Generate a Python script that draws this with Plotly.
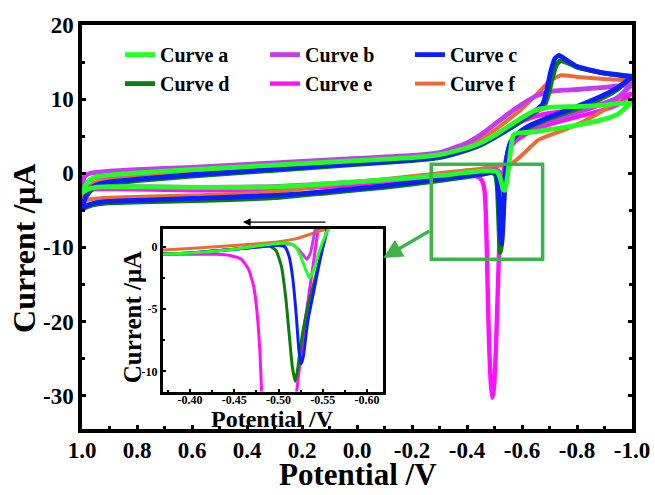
import plotly.graph_objects as go

FONT = "Liberation Serif"

names = ["Curve a", "Curve b", "Curve c", "Curve d", "Curve e", "Curve f"]
colors = ["#22FF22", "#C43CF0", "#0A1EFF", "#0A7E0A", "#FF10FF", "#EE6A35"]

x_tickvals = [1.0, 0.8, 0.6, 0.4, 0.2, 0.0, -0.2, -0.4, -0.6, -0.8, -1.0]
x_ticktext = ["1.0", "0.8", "0.6", "0.4", "0.2", "0.0", "-0.2", "-0.4", "-0.6", "-0.8", "-1.0"]
y_tickvals = [20, 10, 0, -10, -20, -30]
y_ticktext = ["20", "10", "0", "-10", "-20", "-30"]
ix_tickvals = [-0.40, -0.45, -0.50, -0.55, -0.60]
ix_ticktext = ["-0.40", "-0.45", "-0.50", "-0.55", "-0.60"]
iy_tickvals = [0, -5, -10]
iy_ticktext = ["0", "-5", "-10"]

# ---- main CV loops: forward (upper) branch then reverse (lower) branch ----
a_up_V = [1.0, 0.985, 0.97, 0.95, 0.9, 0.8, 0.6, 0.4, 0.2, 0.0, -0.2, -0.3, -0.4, -0.45, -0.5, -0.55, -0.6, -0.65, -0.7, -0.8, -0.9, -1.0]
a_up_I = [-2.6, -1.5, -0.9, -0.5, -0.25, 0.05, 0.5, 0.9, 1.3, 1.7, 2.1, 2.5, 3.4, 4.1, 5.1, 6.3, 7.5, 8.5, 8.9, 9.0, 9.2, 9.6]
a_lo_V = [-1.0, -0.95, -0.9, -0.8, -0.7, -0.62, -0.58, -0.568, -0.56, -0.552, -0.545, -0.538, -0.532, -0.525, -0.515, -0.505, -0.45, -0.3, -0.1, 0.1, 0.3, 0.6, 0.9, 0.95, 0.98, 1.0]
a_lo_I = [9.6, 8.0, 7.3, 6.5, 5.9, 5.5, 5.4, 5.1, 3.5, 1.0, -1.0, -2.3, -2.2, -1.2, -0.1, 0.25, 0.3, -0.3, -0.9, -1.4, -1.85, -1.9, -1.8, -1.9, -2.2, -2.6]

b_up_V = [1.0, 0.99, 0.97, 0.9, 0.8, 0.6, 0.4, 0.2, 0.0, -0.2, -0.3, -0.4, -0.45, -0.5, -0.55, -0.6, -0.65, -0.7, -0.75, -0.8, -0.9, -1.0]
b_up_I = [-1.9, -0.4, 0.0, 0.3, 0.5, 0.8, 1.2, 1.6, 2.0, 2.4, 2.8, 4.1, 5.2, 6.6, 8.0, 9.3, 10.4, 11.0, 11.2, 11.3, 11.6, 12.0]
b_lo_V = [-1.0, -0.95, -0.9, -0.8, -0.7, -0.62, -0.575, -0.56, -0.55, -0.54, -0.532, -0.526, -0.518, -0.505, -0.45, -0.3, -0.1, 0.1, 0.3, 0.6, 0.9, 0.97, 1.0]
b_lo_I = [12.0, 10.3, 9.4, 8.2, 7.1, 5.9, 4.7, 3.8, 2.2, 0.5, -0.8, -0.6, 0.2, 0.45, 0.3, -0.3, -0.9, -1.4, -1.8, -1.9, -1.8, -1.85, -1.9]

c_up_V = [1.0, 0.985, 0.97, 0.95, 0.9, 0.8, 0.6, 0.4, 0.2, 0.0, -0.2, -0.3, -0.4, -0.45, -0.5, -0.55, -0.6, -0.65, -0.675, -0.69, -0.705, -0.72, -0.735, -0.76, -0.8, -0.9, -1.0]
c_up_I = [-4.6, -3.0, -2.2, -1.6, -1.15, -0.8, -0.2, 0.3, 0.8, 1.3, 1.8, 2.2, 3.2, 3.9, 4.9, 6.0, 7.2, 8.5, 9.3, 11.2, 13.8, 15.5, 15.9, 15.3, 14.4, 13.5, 13.0]
c_lo_V = [-1.0, -0.95, -0.9, -0.8, -0.7, -0.62, -0.58, -0.56, -0.549, -0.541, -0.535, -0.53, -0.526, -0.522, -0.518, -0.513, -0.508, -0.495, -0.45, -0.3, -0.1, 0.1, 0.3, 0.6, 0.9, 0.95, 0.98, 1.0]
c_lo_I = [13.0, 11.6, 10.6, 9.0, 7.6, 6.3, 5.2, 4.3, 3.0, 0.5, -3.5, -7.5, -9.5, -8.5, -5.0, -1.8, -0.2, 0.15, -0.1, -0.8, -1.7, -2.4, -3.0, -3.4, -3.8, -4.0, -4.3, -4.6]

d_up_V = [1.0, 0.985, 0.97, 0.95, 0.9, 0.8, 0.6, 0.4, 0.2, 0.0, -0.2, -0.3, -0.4, -0.45, -0.5, -0.55, -0.6, -0.65, -0.68, -0.695, -0.71, -0.725, -0.74, -0.765, -0.8, -0.9, -1.0]
d_up_I = [-4.8, -3.2, -2.4, -1.8, -1.35, -1.0, -0.4, 0.15, 0.65, 1.2, 1.7, 2.1, 3.1, 3.8, 4.8, 5.9, 7.1, 8.3, 9.0, 10.5, 12.8, 14.6, 15.2, 14.9, 14.3, 13.5, 13.1]
d_lo_V = [-1.0, -0.95, -0.9, -0.8, -0.7, -0.62, -0.58, -0.56, -0.548, -0.54, -0.534, -0.529, -0.525, -0.521, -0.518, -0.514, -0.51, -0.503, -0.49, -0.45, -0.3, -0.1, 0.1, 0.3, 0.6, 0.9, 0.95, 0.98, 1.0]
d_lo_I = [13.1, 11.4, 10.3, 8.7, 7.4, 6.1, 5.1, 4.2, 2.8, 0.5, -3.0, -7.0, -9.8, -10.7, -9.0, -5.0, -1.8, -0.2, 0.1, -0.2, -1.0, -1.9, -2.6, -3.3, -3.7, -4.0, -4.2, -4.5, -4.8]

e_up_V = [1.0, 0.985, 0.97, 0.95, 0.9, 0.8, 0.6, 0.4, 0.2, 0.0, -0.2, -0.3, -0.4, -0.45, -0.5, -0.55, -0.6, -0.65, -0.7, -0.8, -0.9, -1.0]
e_up_I = [-2.4, -1.4, -0.9, -0.6, -0.45, -0.15, 0.35, 0.8, 1.2, 1.6, 2.0, 2.4, 3.3, 4.0, 5.0, 6.0, 7.0, 7.7, 8.1, 8.6, 9.5, 10.8]
e_lo_V = [-1.0, -0.95, -0.9, -0.8, -0.7, -0.62, -0.575, -0.55, -0.535, -0.525, -0.517, -0.511, -0.505, -0.498, -0.492, -0.487, -0.481, -0.476, -0.472, -0.468, -0.464, -0.458, -0.448, -0.43, -0.4, -0.3, -0.1, 0.1, 0.3, 0.6, 0.9, 0.97, 1.0]
e_lo_I = [10.8, 9.3, 8.6, 7.6, 6.6, 5.4, 4.3, 3.0, 0.5, -4.0, -10.0, -17.0, -23.8, -29.0, -30.3, -28.5, -23.8, -17.0, -10.3, -5.0, -2.5, -1.3, -0.7, -0.4, -0.35, -0.7, -1.3, -1.8, -2.2, -2.3, -2.1, -2.2, -2.4]

f_up_V = [1.0, 0.985, 0.97, 0.95, 0.9, 0.8, 0.6, 0.4, 0.2, 0.0, -0.2, -0.3, -0.4, -0.45, -0.5, -0.55, -0.6, -0.65, -0.7, -0.74, -0.8, -0.9, -1.0]
f_up_I = [-3.7, -2.4, -1.7, -1.2, -0.9, -0.5, 0.0, 0.6, 1.1, 1.6, 2.1, 2.6, 3.8, 4.7, 5.8, 7.2, 8.7, 10.5, 12.4, 13.2, 13.0, 12.7, 12.5]
f_lo_V = [-1.0, -0.95, -0.9, -0.83, -0.75, -0.66, -0.61, -0.565, -0.5, -0.45, -0.3, -0.1, 0.1, 0.3, 0.6, 0.9, 0.97, 1.0]
f_lo_I = [12.5, 10.0, 8.6, 7.1, 5.8, 4.5, 2.8, 1.4, 0.9, 0.6, 0.0, -0.8, -1.6, -2.5, -3.0, -3.3, -3.5, -3.7]

# ---- inset (stripping-peak region, reverse scan) ----
ia_V = [-0.36, -0.40, -0.45, -0.48, -0.50, -0.51, -0.518, -0.525, -0.531, -0.535, -0.54, -0.545, -0.55, -0.557, -0.565]
ia_I = [-0.6, -0.5, -0.2, 0.1, 0.25, 0.3, 0.1, -0.8, -1.9, -2.5, -1.8, -0.6, 0.4, 1.6, 3.0]
ib_V = [-0.36, -0.40, -0.45, -0.50, -0.515, -0.525, -0.532, -0.536, -0.539, -0.542, -0.546]
ib_I = [-0.6, -0.5, -0.2, 0.2, 0.2, -0.4, -1.0, -0.5, 0.5, 1.6, 3.0]
ic_V = [-0.36, -0.40, -0.45, -0.48, -0.50, -0.507, -0.512, -0.516, -0.52, -0.523, -0.5255, -0.528, -0.533, -0.54, -0.547, -0.555, -0.562]
ic_I = [-0.55, -0.5, -0.2, 0.0, 0.1, 0.0, -0.8, -2.5, -5.5, -8.3, -9.4, -8.8, -6.0, -3.5, -1.0, 1.5, 3.5]
id_V = [-0.36, -0.40, -0.45, -0.48, -0.49, -0.497, -0.503, -0.508, -0.512, -0.5155, -0.519, -0.522, -0.527, -0.533, -0.54, -0.548, -0.555, -0.562]
id_I = [-0.6, -0.5, -0.2, 0.0, 0.05, -0.3, -1.5, -4.0, -7.0, -9.6, -10.8, -9.6, -7.0, -4.8, -2.9, -0.6, 1.3, 3.0]
ie_V = [-0.36, -0.40, -0.43, -0.445, -0.458, -0.466, -0.472, -0.476, -0.479, -0.481, -0.485, -0.492, -0.50, -0.508, -0.514, -0.519, -0.524, -0.53, -0.538, -0.545]
ie_I = [-0.6, -0.6, -0.6, -0.7, -1.0, -1.8, -3.2, -5.5, -8.5, -12.0, -20.0, -28.0, -30.0, -25.0, -16.0, -12.5, -9.5, -6.0, -2.0, 1.6]
if_V = [-0.36, -0.40, -0.45, -0.48, -0.50, -0.52, -0.54, -0.56, -0.58]
if_I = [-0.3, -0.15, 0.1, 0.25, 0.4, 0.65, 1.1, 1.6, 2.2]

main_data = {
    "Curve a": (a_up_V + a_lo_V, a_up_I + a_lo_I),
    "Curve b": (b_up_V + b_lo_V, b_up_I + b_lo_I),
    "Curve c": (c_up_V + c_lo_V, c_up_I + c_lo_I),
    "Curve d": (d_up_V + d_lo_V, d_up_I + d_lo_I),
    "Curve e": (e_up_V + e_lo_V, e_up_I + e_lo_I),
    "Curve f": (f_up_V + f_lo_V, f_up_I + f_lo_I),
}
inset_data = {
    "Curve a": (ia_V, ia_I), "Curve b": (ib_V, ib_I), "Curve c": (ic_V, ic_I),
    "Curve d": (id_V, id_I), "Curve e": (ie_V, ie_I), "Curve f": (if_V, if_I),
}
draw_order = ["Curve e", "Curve f", "Curve b", "Curve d", "Curve c", "Curve a"]
main_width = {"Curve a": 4.8, "Curve b": 4.8, "Curve c": 4.8, "Curve d": 4.8, "Curve e": 4.4, "Curve f": 4.0}

fig = go.Figure()
for nm in draw_order:
    k = names.index(nm)
    xs, ys = main_data[nm]
    fig.add_trace(go.Scatter(x=xs, y=ys, mode="lines", name=nm, legendrank=k + 1,
                             line=dict(color=colors[k], width=main_width[nm], shape="spline", smoothing=0.5),
                             xaxis="x", yaxis="y"))
for nm in draw_order:
    k = names.index(nm)
    xs, ys = inset_data[nm]
    fig.add_trace(go.Scatter(x=xs, y=ys, mode="lines", showlegend=False,
                             line=dict(color=colors[k], width=3, shape="spline", smoothing=0.5),
                             xaxis="x2", yaxis="y2"))

tf = dict(family=FONT, size=23, color="black", weight="bold")
itf = dict(family=FONT, size=12, color="black", weight="bold")
fig.update_layout(
    width=655, height=495,
    margin=dict(l=82, r=23, t=24.5, b=65.5),
    paper_bgcolor="white", plot_bgcolor="white",
    xaxis=dict(range=[1.0, -1.0], automargin=False, showgrid=False, zeroline=False, showline=True,
               linecolor="black", linewidth=3.5, mirror=True, ticks="inside", ticklen=4, tickwidth=3,
               tickcolor="black", tickmode="array", tickvals=x_tickvals, ticktext=x_ticktext, tickfont=tf,
               ticklabelstandoff=-2,
               minor=dict(ticks="inside", tickmode="linear", tick0=0, dtick=0.1, ticklen=3, tickwidth=3,
                          tickcolor="black")),
    yaxis=dict(range=[-34.5, 20], automargin=False, showgrid=False, zeroline=False, showline=True,
               linecolor="black", linewidth=3.5, mirror="ticks", ticks="inside", ticklen=4, tickwidth=3,
               tickcolor="black", tickmode="array", tickvals=y_tickvals, ticktext=y_ticktext, tickfont=tf,
               minor=dict(ticks="inside", tickmode="linear", tick0=0, dtick=5, ticklen=3, tickwidth=3,
                          tickcolor="black")),
    xaxis2=dict(domain=[0.1473, 0.5473], anchor="y2", range=[-0.3695, -0.618], automargin=False,
                showgrid=False, zeroline=False, showline=True, linecolor="black", linewidth=3, mirror=True,
                ticks="inside", ticklen=3, tickwidth=2, tickcolor="black", tickmode="array",
                tickvals=ix_tickvals, ticktext=ix_ticktext, tickfont=itf, ticklabelstandoff=-5,
                minor=dict(ticks="inside", tickmode="linear", tick0=0, dtick=0.025, ticklen=2, tickwidth=2,
                           tickcolor="black")),
    yaxis2=dict(domain=[0.0926, 0.495], anchor="x2", range=[-11.62, 1.42], automargin=False,
                showgrid=False, zeroline=False, showline=True, linecolor="black", linewidth=3, mirror=True,
                ticks="inside", ticklen=3, tickwidth=2, tickcolor="black", tickmode="array",
                tickvals=iy_tickvals, ticktext=iy_ticktext, tickfont=itf,
                minor=dict(ticks="inside", tickmode="linear", tick0=0, dtick=2.5, ticklen=2, tickwidth=2,
                           tickcolor="black")),
    legend=dict(orientation="h", x=0.069, y=0.975, xanchor="left", yanchor="top",
                entrywidth=100, bgcolor="rgba(0,0,0,0)",
                font=dict(family=FONT, size=20, color="black", weight="bold")),
    showlegend=True,
)

# zoom box on the main plot and arrows
fig.add_shape(type="rect", xref="x", yref="y", x0=-0.27, x1=-0.675, y0=1.2, y1=-11.6,
              line=dict(color="#3DB44A", width=3.5))
fig.add_annotation(xref="x", yref="y", axref="x", ayref="y", x=-0.095, y=-11.43, ax=-0.269, ay=-7.66,
                   text="", showarrow=True, arrowhead=2, arrowsize=1.1, arrowwidth=3.5, arrowcolor="#3DB44A")
fig.add_annotation(xref="x", yref="y", axref="x", ayref="y", x=0.415, y=-6.58, ax=0.109, ay=-6.58,
                   text="", showarrow=True, arrowhead=2, arrowsize=1.3, arrowwidth=1.2, arrowcolor="black")

title_font = dict(family=FONT, size=31, color="black", weight="bold")
fig.add_annotation(xref="paper", yref="paper", x=0.502, y=-0.1617, text="Potential /V", showarrow=False,
                   font=title_font, xanchor="center", yanchor="bottom")
fig.add_annotation(xref="paper", yref="paper", x=-0.1055, y=0.448, text="Current /\u03bcA", showarrow=False,
                   font=dict(family=FONT, size=32, color="black", weight="bold"), textangle=-90,
                   xanchor="center", yanchor="middle")
inset_font = dict(family=FONT, size=24, color="black", weight="bold")
fig.add_annotation(xref="paper", yref="paper", x=0.3455, y=0.025, text="Potential /V", showarrow=False,
                   font=inset_font, xanchor="center", yanchor="middle")
fig.add_annotation(xref="paper", yref="paper", x=0.0909, y=0.2765, text="Current /\u03bcA", showarrow=False,
                   font=dict(family=FONT, size=25, color="black", weight="bold"), textangle=-90,
                   xanchor="center", yanchor="middle")

fig.write_html("out.html")
